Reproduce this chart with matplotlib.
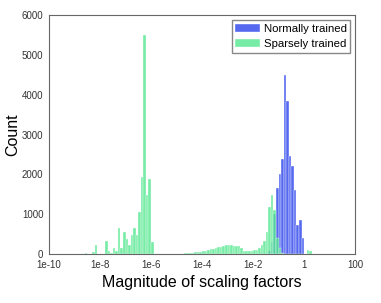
import matplotlib
matplotlib.use("Agg")
import matplotlib.pyplot as plt
import numpy as np

plt.rcParams['font.family'] = ['Liberation Sans', 'DejaVu Sans']

# histogram bins: 0.1 decade wide, bin k starts at 10**(-10 + 0.1*k)
bin_start = -10.0
bin_step = 0.1

# normally trained: bin index -> count
normal_bins = [86, 87, 88, 89, 90, 91, 92, 93, 94, 95, 96, 97, 98, 99]
normal_counts = [80, 300, 1000, 1650, 2020, 2390, 4500, 3840, 2450, 2200, 1600, 720, 860, 400]

# sparsely trained: bin index -> count
sparse_bins = [14, 17, 18, 22, 23, 24, 25, 26, 27, 28, 29, 30, 31, 32, 33, 34, 35, 36, 37, 38, 39, 40,
               51, 52, 53, 54, 55, 56, 57, 58, 59, 60, 61, 62, 63, 64, 65, 66, 67, 68, 69, 70,
               71, 72, 73, 74, 75, 76, 77, 78, 79, 80, 81, 82, 83, 84, 85, 86, 87, 88, 89, 90,
               91, 101, 102]
sparse_counts = [35, 60, 220, 330, 75, 30, 140, 75, 650, 150, 545, 375, 225, 470, 650, 480, 1065, 1945, 5500, 1480, 1875, 310,
                 10, 10, 15, 20, 25, 35, 40, 50, 60, 70, 85, 100, 115, 130, 150, 165, 185, 200, 215, 225,
                 215, 210, 200, 195, 150, 85, 75, 70, 80, 110, 110, 150, 230, 320, 550, 1170, 1480, 1100, 390, 150,
                 30, 100, 80]

xticks = [1e-10, 1e-8, 1e-6, 1e-4, 1e-2, 1, 100]
xtick_labels = ['1e-10', '1e-8', '1e-6', '1e-4', '1e-2', '1', '100']


def edges(bins):
    k = np.array(bins, dtype=float)
    left = 10 ** (bin_start + bin_step * k)
    right = 10 ** (bin_start + bin_step * (k + 1))
    return left, right - left


fig = plt.figure(figsize=(3.81, 3.03), dpi=100)
ax = fig.add_axes([0.1286, 0.1617, 0.8034, 0.7888])

left, width = edges(normal_bins)
ax.bar(left, normal_counts, width=width, align='edge', color='#4257ee', alpha=0.9,
       edgecolor='white', linewidth=0.3, label='Normally trained')
left, width = edges(sparse_bins)
ax.bar(left, sparse_counts, width=width, align='edge', color='#55e890', alpha=0.8,
       edgecolor='white', linewidth=0.3, label='Sparsely trained')

ax.set_xscale('log')
ax.set_xlim(1e-10, 100)
ax.set_ylim(0, 6000)
ax.set_xticks(xticks)
ax.set_xticklabels(xtick_labels)
ax.minorticks_off()
ax.set_yticks(range(0, 6001, 1000))
ax.tick_params(length=0, labelsize=7, pad=4, colors='#333333')
for s in ax.spines.values():
    s.set_color('#666666')
    s.set_linewidth(0.8)

ax.set_xlabel('Magnitude of scaling factors', fontsize=11.5, labelpad=4)
ax.set_ylabel('Count', fontsize=11.5)
ax.yaxis.set_label_coords(-0.095, 0.5)

leg = ax.legend(loc='upper right', fontsize=8.2, fancybox=False, framealpha=1,
                borderpad=0.3, handlelength=2.2, handletextpad=0.3, borderaxespad=0.45)
leg.get_frame().set_edgecolor('#888888')

fig.savefig('out.png', dpi=100)
